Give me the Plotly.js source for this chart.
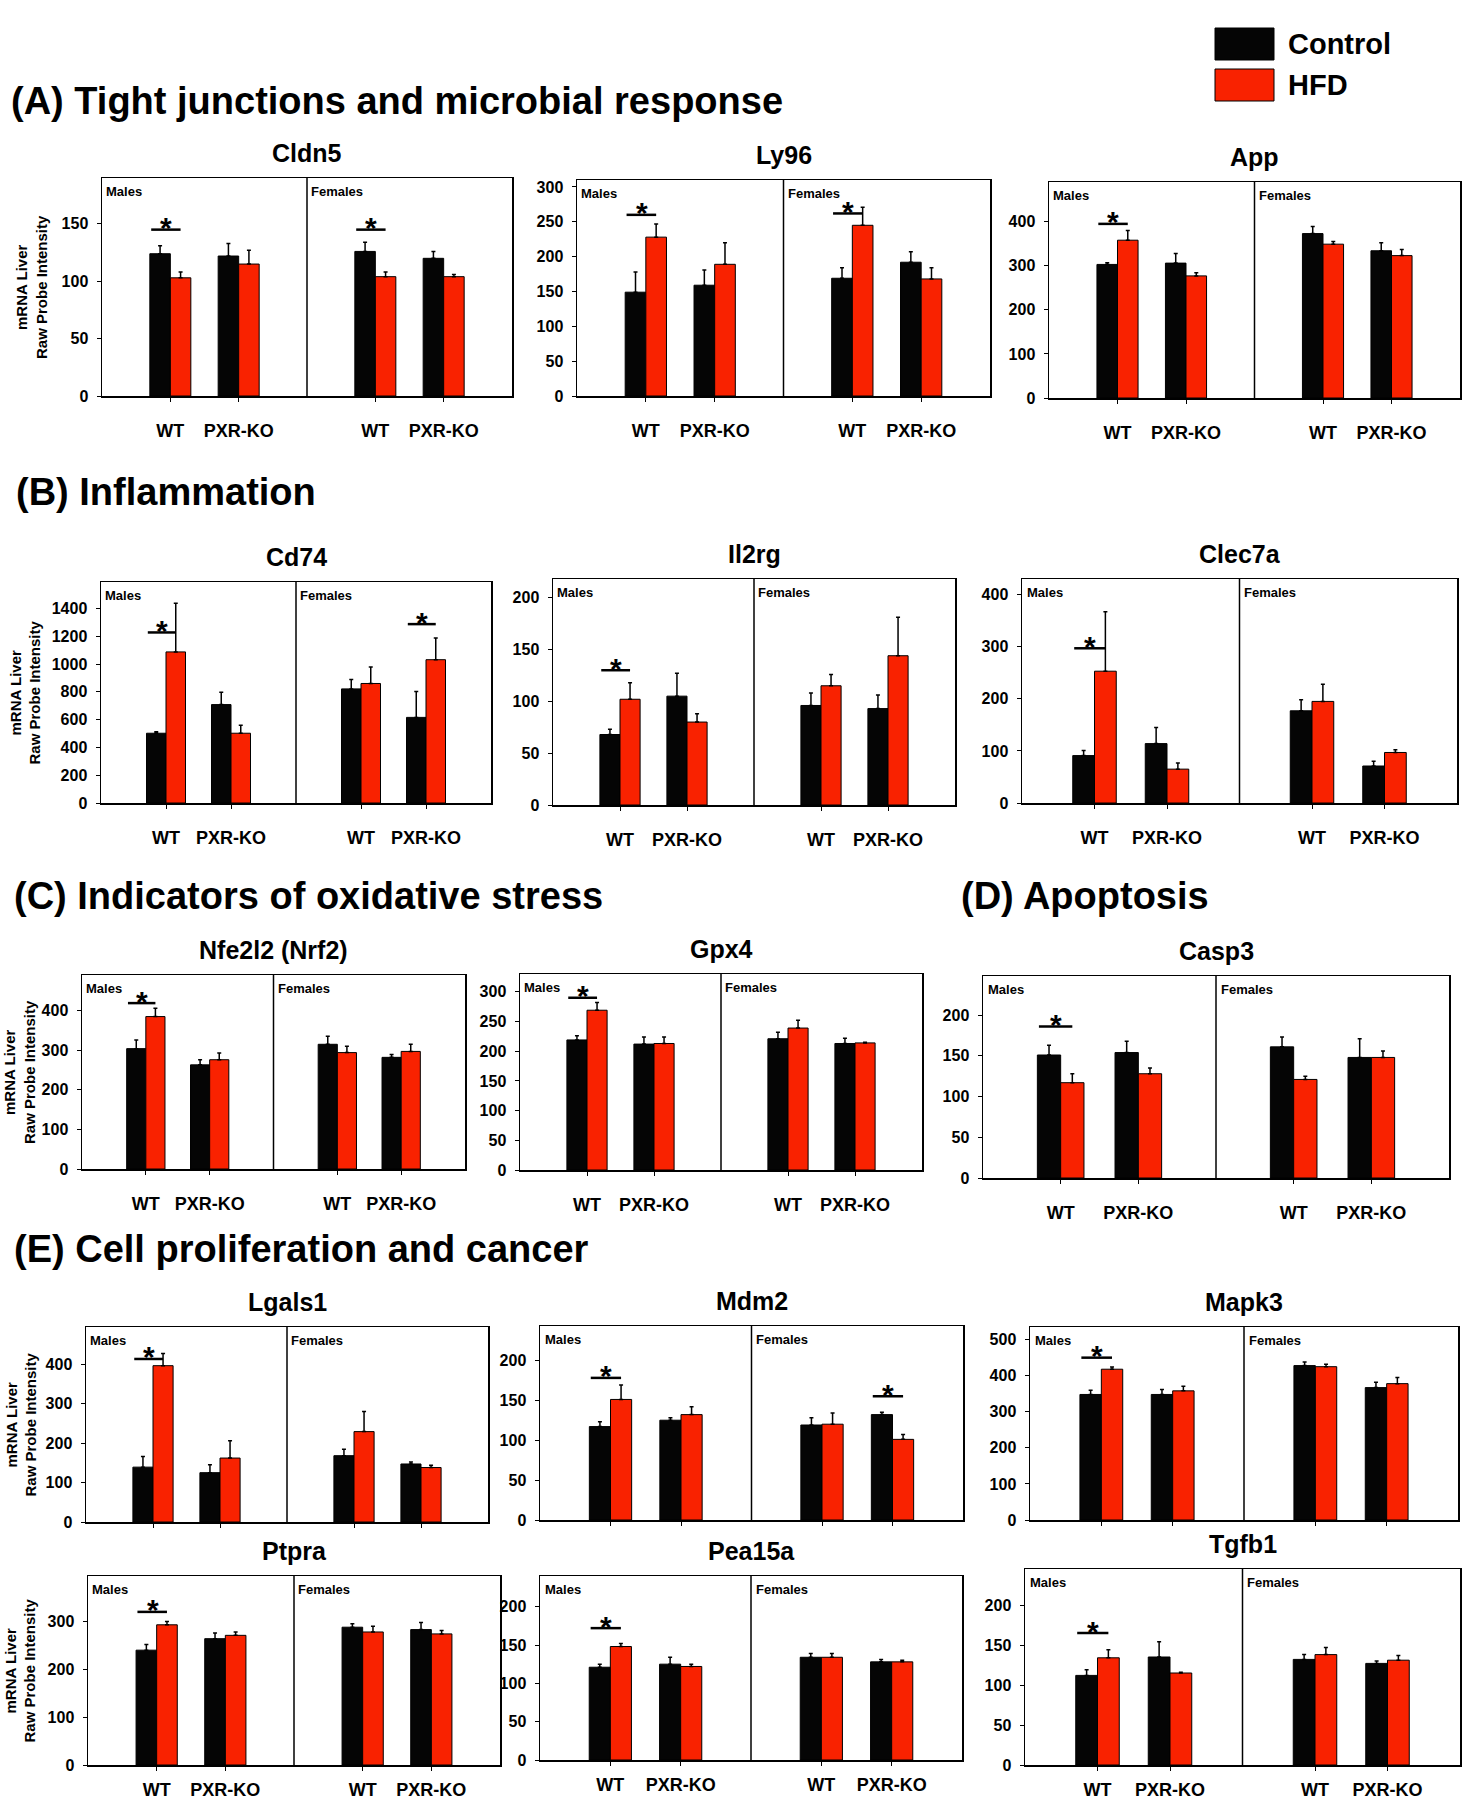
<!DOCTYPE html>
<html>
<head>
<meta charset="utf-8">
<script src="https://cdn.plot.ly/plotly-3.0.1.min.js"></script>
<style>
  html, body { margin: 0; padding: 0; background: #fff; }
  #fig { width: 1472px; height: 1800px; }
</style>
</head>
<body>
<div id="fig"></div>
<script>
// Liver mRNA raw probe intensity, Control vs HFD, per gene panel
// group order in every row: Males WT, Males PXR-KO, Females WT, Females PXR-KO

const genes = ['Cldn5', 'Ly96', 'App', 'Cd74', 'Il2rg', 'Clec7a', 'Nfe2l2 (Nrf2)', 'Gpx4', 'Casp3',
  'Lgals1', 'Mdm2', 'Mapk3', 'Ptpra', 'Pea15a', 'Tgfb1'];
const sexes = ['Males', 'Females'];
const genotypes = ['WT', 'PXR-KO'];
const seriesNames = ['Control', 'HFD'];

const controlMean = [
  [124, 122, 126, 120], [149, 159, 169, 192], [303, 306, 373, 334],
  [502, 708, 821, 616], [68, 105, 96, 93], [91, 114, 177, 71],
  [304, 263, 315, 282], [219, 212, 221, 213], [151, 154, 161, 148],
  [139, 125, 168, 147], [117, 125, 119, 132], [348, 348, 428, 367],
  [240, 264, 288, 283], [121, 125, 134, 128], [112, 135, 132, 127],
];
const controlErr = [
  [7, 11, 8, 6], [29, 22, 15, 15], [4, 22, 16, 18],
  [10, 89, 68, 186], [5, 22, 12, 13], [10, 31, 21, 9],
  [22, 13, 20, 7], [7, 12, 11, 9], [12, 14, 12, 23],
  [27, 20, 16, 5], [6, 3, 9, 3], [12, 14, 10, 15],
  [12, 12, 7, 15], [4, 9, 5, 3], [7, 19, 6, 3],
];
const hfdMean = [
  [103, 115, 104, 104], [228, 189, 245, 168], [358, 277, 349, 323],
  [1087, 502, 860, 1031], [102, 80, 115, 144], [253, 65, 195, 97],
  [385, 276, 294, 297], [269, 213, 239, 214], [117, 128, 121, 148],
  [396, 162, 229, 138], [151, 132, 120, 101], [418, 358, 425, 378],
  [293, 271, 278, 274], [148, 122, 134, 128], [134, 115, 138, 131],
];
const hfdErr = [
  [5, 12, 4, 2], [19, 31, 26, 16], [22, 7, 6, 14],
  [350, 58, 118, 157], [16, 8, 11, 37], [114, 12, 33, 5],
  [21, 17, 16, 18], [13, 11, 13, 1], [11, 7, 4, 8],
  [31, 44, 51, 6], [18, 10, 14, 6], [6, 13, 7, 17],
  [7, 7, 12, 7], [4, 3, 5, 2], [10, 1, 9, 6],
];

// significance marks: [gene index, group index, bar level]
const sigMarks = [
  [0, 0, 145], [0, 2, 145], [1, 0, 260], [1, 2, 262], [2, 0, 395],
  [3, 0, 1227], [3, 3, 1287], [4, 0, 130], [5, 0, 297], [6, 0, 419],
  [7, 0, 290], [8, 0, 186], [9, 0, 413], [10, 0, 178], [10, 3, 155],
  [11, 0, 450], [12, 0, 320], [13, 0, 172], [14, 0, 165],
];

// y axis range top and tick step per gene
const yMax = [190, 310, 490, 1590, 218, 430, 490, 330, 248, 494, 243, 535, 395, 240, 245];
const yStep = [50, 50, 100, 200, 50, 100, 100, 50, 50, 100, 50, 100, 100, 50, 50];

const sections = [
  { text: '(A) Tight junctions and microbial response', x: 9, y: 101 },
  { text: '(B) Inflammation', x: 14, y: 492 },
  { text: '(C) Indicators of oxidative stress', x: 12, y: 896 },
  { text: '(D) Apoptosis', x: 959, y: 896 },
  { text: '(E) Cell proliferation and cancer', x: 12, y: 1249 },
];

// panel frames in page pixels: [left, top, right, bottom]
const frames = [
  [102, 178, 512, 396], [577, 180, 990, 396], [1049, 182, 1460, 398],
  [101, 582, 491, 803], [553, 579, 955, 805], [1022, 579, 1457, 803],
  [82, 975, 465, 1169], [520, 974, 922, 1170], [983, 976, 1449, 1178],
  [86, 1327, 488, 1522], [540, 1326, 963, 1520], [1030, 1327, 1458, 1520],
  [88, 1576, 500, 1765], [540, 1576, 962, 1760], [1025, 1569, 1460, 1765],
];
const noXLabels = [9, 10, 11];
const lastRow = [12, 13, 14];
// y title column centre (page px) for the panels that carry one
const yTitleX = { 0: 31, 3: 25, 6: 19, 9: 21, 12: 20 };

const W = 1472, H = 1800;
const RED = '#f92200', BLACK = '#050505';
const FONT = 'Liberation Sans, Arial, sans-serif';
const bold = (size) => ({ family: FONT, size, color: '#000', weight: 'bold' });

const groupPos = [0, 1, 2, 3].map((k) => Math.floor(k / 2) * 3 + (k % 2) + 1);

const traces = [];
const shapes = [];
const annotations = [];
const layout = {
  width: W, height: H,
  margin: { l: 0, r: 0, t: 0, b: 0 },
  paper_bgcolor: '#fff', plot_bgcolor: '#fff',
  showlegend: false,
  barmode: 'overlay',
  font: { family: FONT, color: '#000' },
};

genes.forEach((gene, i) => {
  const n = i === 0 ? '' : String(i + 1);
  const xa = 'x' + n, ya = 'y' + n;
  const [l, t, r, b] = frames[i];

  [controlMean, hfdMean].forEach((means, s) => {
    const errs = s === 0 ? controlErr : hfdErr;
    traces.push({
      type: 'bar',
      name: seriesNames[s],
      x: groupPos,
      y: means[i],
      width: 0.3,
      offset: s === 0 ? -0.3 : 0,
      xaxis: xa, yaxis: ya,
      marker: { color: s === 0 ? BLACK : RED, line: { color: '#000', width: 1 } },
      error_y: {
        type: 'data', symmetric: false, array: errs[i], arrayminus: errs[i].map(() => 0),
        color: '#000', thickness: 1.5, width: 2,
      },
      hoverinfo: 'x+y',
    });
  });

  layout['xaxis' + n] = {
    domain: [l / W, r / W], anchor: ya,
    range: [0, 6], showgrid: false, zeroline: false,
    showline: true, mirror: true, linecolor: '#000', linewidth: 1.5,
    tickmode: 'array', tickvals: groupPos,
    ticktext: groupPos.map((_, k) => genotypes[k % 2]),
    ticks: 'outside', ticklen: 4, tickcolor: '#000',
    showticklabels: !noXLabels.includes(i),
    tickfont: bold(18), ticklabelstandoff: lastRow.includes(i) ? 4 : 14,
    fixedrange: true,
  };
  layout['yaxis' + n] = {
    domain: [1 - b / H, 1 - t / H], anchor: xa,
    range: [0, yMax[i]], tickmode: 'linear', tick0: 0, dtick: yStep[i],
    showgrid: false, zeroline: false,
    showline: true, mirror: true, linecolor: '#000', linewidth: 1.5,
    ticks: 'outside', ticklen: 4, tickcolor: '#000',
    tickfont: bold(16), ticklabelstandoff: 5,
    fixedrange: true,
  };

  // males | females divider
  shapes.push({
    type: 'line', xref: xa, yref: ya + ' domain', x0: 3, x1: 3, y0: 0, y1: 1,
    line: { color: '#000', width: 1.5 },
  });

  annotations.push({
    text: gene, xref: xa + ' domain', yref: ya + ' domain', x: 0.5, y: 1,
    yanchor: 'middle', yshift: 25, showarrow: false, font: bold(25),
  });
  sexes.forEach((sex, k) => {
    annotations.push({
      text: sex, xref: xa + ' domain', yref: ya + ' domain', x: k * 0.5 + 0.006, y: 1,
      xanchor: 'left', yanchor: 'top', yshift: -4, showarrow: false, font: bold(13),
    });
  });
  if (i in yTitleX) {
    annotations.push({
      text: 'mRNA Liver<br>Raw Probe Intensity', textangle: -90,
      xref: 'paper', yref: ya + ' domain', x: yTitleX[i] / W, y: 0.5,
      xanchor: 'center', yanchor: 'middle', showarrow: false, font: bold(15),
    });
  }
});

sigMarks.forEach(([g, k, level]) => {
  const n = g === 0 ? '' : String(g + 1);
  const p = groupPos[k];
  shapes.push({
    type: 'line', xref: 'x' + n, yref: 'y' + n, x0: p - 0.28, x1: p + 0.15, y0: level, y1: level,
    line: { color: '#000', width: 2.5 },
  });
  annotations.push({
    text: '*', xref: 'x' + n, yref: 'y' + n, x: p - 0.06, y: level,
    yanchor: 'middle', yshift: 2, showarrow: false, font: bold(30),
  });
});

sections.forEach((s) => {
  annotations.push({
    text: s.text, xref: 'paper', yref: 'paper', x: s.x / W, y: 1 - s.y / H,
    xanchor: 'left', yanchor: 'middle', showarrow: false, font: bold(38),
  });
});

// legend keys
seriesNames.forEach((name, s) => {
  const top = 28 + s * 41;
  shapes.push({
    type: 'rect', xref: 'paper', yref: 'paper',
    x0: 1215 / W, x1: 1274 / W, y0: 1 - (top + 32) / H, y1: 1 - top / H,
    fillcolor: s === 0 ? BLACK : RED, line: { color: '#000', width: 1 },
  });
  annotations.push({
    text: name, xref: 'paper', yref: 'paper', x: 1286 / W, y: 1 - (top + 16) / H,
    xanchor: 'left', yanchor: 'middle', showarrow: false, font: bold(29),
  });
});

layout.shapes = shapes;
layout.annotations = annotations;

Plotly.newPlot('fig', traces, layout, { staticPlot: true, displayModeBar: false });
</script>
</body>
</html>
